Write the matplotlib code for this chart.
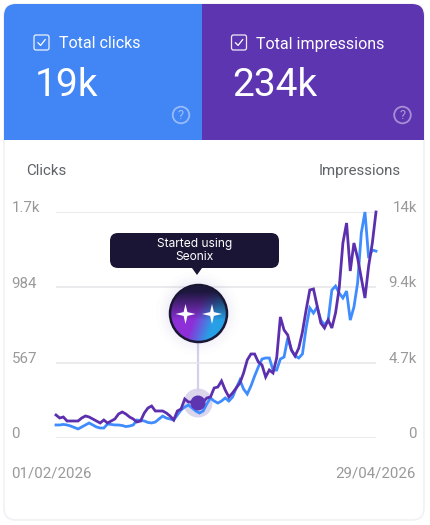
import numpy as np
import matplotlib
matplotlib.use("Agg")
import matplotlib.pyplot as plt
from matplotlib.patches import FancyBboxPatch, Rectangle, Circle, Polygon
from matplotlib.transforms import ScaledTranslation

clicks = [98,98,102,98,90,79,68,83,98,113,98,83,75,75,105,102,98,98,94,86,90,98,135,132,128,117,113,120,143,165,150,143,135,173,211,233,248,226,203,188,203,256,301,278,263,278,301,278,308,376,436,368,331,391,466,534,594,602,602,511,511,594,609,752,662,617,602,632,827,978,940,985,887,850,887,1113,1143,1090,1053,1105,887,985,1166,1542,1700,1354,1414,1406]
impressions = [1425,1239,1301,1053,1053,1053,1053,1239,1363,1301,1177,1053,929,1115,929,1053,1177,1487,1611,1487,1301,1177,991,1053,1549,1859,1982,1673,1673,1673,1549,1363,1115,1673,1797,2416,2230,2230,2478,2230,2230,2478,2540,3098,3159,3531,2974,2540,2788,3098,3407,4027,4832,5204,5204,4708,4522,3779,4213,4027,4956,7496,6690,6380,5450,5080,5570,6567,7930,9169,9231,8177,7124,6815,7310,6815,7744,9293,12080,13319,10346,12080,11151,9912,8673,10655,12080,14000]
days = list(range(len(clicks)))
date_ticks = [0, 87]
date_labels = ["01/02/2026", "29/04/2026"]
click_ticks = [0, 567, 1133, 1700]
click_labels = ["0", "567", "984", "1.7k"]
imp_ticks = [0, 4700, 9400, 14000]
imp_labels = ["0", "4.7k", "9.4k", "14k"]

W, H = 430, 525
BLUE, PURPLE = "#4285f4", "#5e35b1"
FONT = "Roboto"
plt.rcParams["font.family"] = FONT
fig = plt.figure(figsize=(W/100, H/100), dpi=100, facecolor="white")
px = lambda v: v*0.72

def layer(z):
    a = fig.add_axes([0, 0, 1, 1], zorder=z)
    a.set_xlim(0, W); a.set_ylim(H, 0); a.axis("off")
    return a

bg = layer(0)
card = FancyBboxPatch((4, 4), 420, 516, boxstyle="round,pad=0,rounding_size=12",
                      fc="white", ec="#f0f1f4", lw=1.2)
bg.add_patch(card)
for x0, w, c in [(4, 198, BLUE), (202, 222, PURPLE)]:
    r = Rectangle((x0, 4), w, 136, fc=c, ec="none")
    bg.add_patch(r)
    r.set_clip_path(card)

def header(x, label, value, qx):
    bg.add_patch(FancyBboxPatch((x, 35), 15, 15, boxstyle="round,pad=0,rounding_size=2",
                                fc="none", ec=(1, 1, 1, .9), lw=0.9))
    bg.plot([x+4, x+6.6, x+11.2], [42.8, 45.4, 39.6], color="white", lw=0.9)
    bg.text(x+25, 44, label, color="white", fontsize=px(16), va="center", ha="left")
    bg.text(x+0.5, 85, value, color="white", fontsize=px(39), va="center", ha="left")
    bg.add_patch(Circle((qx, 115), 8.3, fc="none", ec=(1, 1, 1, .45), lw=1.3))
    bg.text(qx, 115.3, "?", color=(1, 1, 1, .5), fontsize=px(13), va="center", ha="center")

header(34, "Total clicks", "19k", 181)
header(231.5, "Total impressions", "234k", 402.5)

bg.text(26, 171, "Clicks", color="#5f6368", fontsize=px(15), va="center", ha="left")
bg.text(401, 171, "Impressions", color="#5f6368", fontsize=px(15), va="center", ha="right")

# callout under the lines
bg.plot([198, 198], [342, 392], color="#d6cfeb", lw=1.6, solid_capstyle="butt")
bg.add_patch(Circle((198, 403), 14.5, fc="#dcd6ec", ec="none"))

# chart
ax = fig.add_axes([56/W, 1-438/H, 320/W, 226/H], zorder=1)
ax.patch.set_alpha(0)
ax.plot(days, clicks, color="#3f8cff", lw=2.0, solid_joinstyle="miter", clip_on=False)
ax.set_xlim(0, 87); ax.set_ylim(0, 1700)
ax.set_yticks(click_ticks, click_labels)
ax.set_xticks(date_ticks, date_labels)
ax.grid(axis="y", color="#e6e6e8", lw=1.1)
ax.set_axisbelow(True)
for s in ax.spines.values():
    s.set_visible(False)
ax.tick_params(axis="y", length=0, pad=px(44.5), labelcolor="#999999", labelsize=px(15))
ax.tick_params(axis="x", length=0, pad=px(29), labelcolor="#999999", labelsize=px(15))
up = ScaledTranslation(0, 5/100, fig.dpi_scale_trans)
for t in ax.get_yticklabels():
    t.set_ha("left")
    t.set_transform(t.get_transform() + up)
xl = ax.get_xticklabels()
xl[0].set_ha("left")
xl[0].set_transform(xl[0].get_transform() + ScaledTranslation(-44.5/100, 0, fig.dpi_scale_trans))
xl[1].set_ha("right")
xl[1].set_transform(xl[1].get_transform() + ScaledTranslation(40/100, 0, fig.dpi_scale_trans))

ax2 = ax.twinx()
ax2.patch.set_alpha(0)
ax2.plot(days, impressions, color="#5c2fae", lw=2.0, solid_joinstyle="miter", clip_on=False)
ax2.set_ylim(0, 14000)
ax2.set_yticks(imp_ticks, imp_labels)
for s in ax2.spines.values():
    s.set_visible(False)
ax2.tick_params(axis="y", length=0, pad=px(41), labelcolor="#999999", labelsize=px(15))
for t in ax2.get_yticklabels():
    t.set_ha("right")
    t.set_transform(t.get_transform() + up)

# overlay: marker and tooltip
top = layer(3)
top.add_patch(Circle((198, 403), 7.5, fc=PURPLE, ec="none"))
for r, a in [(42, .012), (38, .015), (35, .02), (32, .03)]:
    top.add_patch(Circle((198, 313), r, fc="#7a5cc8", ec="none", alpha=a))

gy, gx = np.mgrid[0:1:120j, 0:1:120j]
c_dark = np.array([0x1c, 0x17, 0x3c]) / 255
c_purple = np.array([0x8e, 0x2f, 0xd8]) / 255
c_blue = np.array([0x27, 0xa0, 0xe6]) / 255
mix = np.clip((gx - 0.4) / 0.35 + (gy - 0.65) * 1.0, 0, 1)[..., None]
low = c_purple * (1 - mix) + c_blue * mix
fade = np.clip((gy - 0.12) / 0.5, 0, 1)[..., None]
img = c_dark * (1 - fade) + low * fade
im = top.imshow(img, extent=(169, 228, 343, 284), aspect="auto", zorder=2, interpolation="bilinear")
top.set_xlim(0, W); top.set_ylim(H, 0)
clip = Circle((198.5, 313.5), 29, transform=top.transData, fc="none")
top.add_patch(clip)
im.set_clip_path(clip)
top.add_patch(Circle((198.5, 313.5), 28.5, fc="none", ec="#1a1735", lw=1.8, zorder=3))

def star(cx, cy, r):
    pts = []
    for k in range(8):
        ang = k*np.pi/4
        rad = r if k % 2 == 0 else r*0.27
        pts.append((cx + rad*np.sin(ang), cy - rad*np.cos(ang)))
    top.add_patch(Polygon(pts, closed=True, fc="white", ec="none", zorder=4))

star(185.5, 314, 10)
star(212, 314, 10)

top.add_patch(FancyBboxPatch((110, 233), 169, 35, boxstyle="round,pad=0,rounding_size=8",
                             fc="#1a1535", ec="none", zorder=5))
top.add_patch(Polygon([(192, 268), (202, 268), (197, 275)], closed=True, fc="#1a1535", ec="none", zorder=5))
top.text(194.5, 250.5, "Started using\nSeonix", color="white", fontsize=px(12), ha="center", va="center",
         family="Inter", linespacing=1.05, zorder=6)

fig.savefig("out.png", dpi=100, facecolor="white")
